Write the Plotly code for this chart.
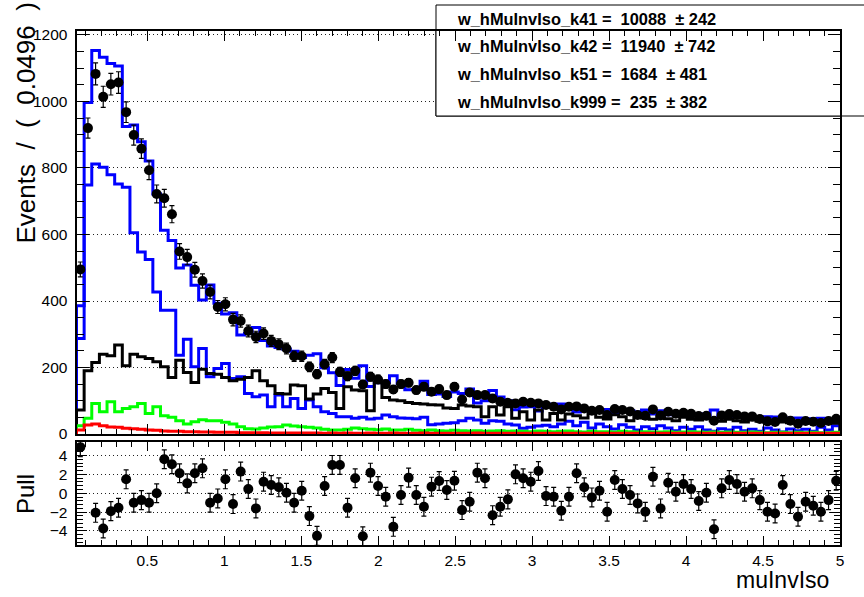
import numpy as np
import plotly.graph_objects as go

# ---- binning -------------------------------------------------------------
x_lo, x_hi, n_bins = 0.04, 5.0, 100

# ---- observed counts per bin ---------------------------------------------
data_counts = [
    495, 920, 1083, 1014, 1052, 1057, 968, 899, 858, 793,
    722, 709, 661, 549, 532, 494, 460, 427, 382, 390,
    344, 340, 310, 292, 302, 280, 270, 257, 234, 234,
    202, 180, 210, 230, 187, 174, 190, 149, 172, 164,
    150, 134, 150, 154, 132, 142, 127, 135, 117, 142,
    104, 125, 117, 117, 107, 97, 94, 92, 97, 94,
    92, 87, 82, 74, 82, 83, 77, 70, 72, 57,
    75, 72, 68, 57, 55, 74, 56, 67, 61, 64,
    61, 54, 55, 40, 56, 60, 57, 53, 53, 45,
    38, 36, 50, 40, 31, 39, 37, 33, 39, 46,
]

# ---- pull per bin (None = outside the displayed range) -------------------
pull_values = [
    4.9, None, -2.08, -3.75, -1.9, -1.54, 1.48, -1.01, -0.73, -1.01,
    0.0, 3.61, 3.08, 2.12, 1.05, 2.12, 2.65, -1.01, -0.55, 1.48,
    -1.15, 2.3, 0.45, -1.61, 1.23, 0.88, 0.63, 0.06, -1.01, 0.27,
    -2.43, -4.53, 0.77, 3.01, 3.01, -1.54, 1.59, -4.57, 2.19, 0.77,
    -0.37, -3.57, -0.19, 1.66, -0.19, -1.44, 0.7, 1.3, 0.34, 1.33,
    -1.79, -0.9, 2.19, 1.59, -2.33, -1.44, -0.65, 2.01, 1.59, 1.23,
    2.37, -0.3, -0.37, -1.86, -0.37, 2.12, 0.63, -0.44, 0.27, -1.97,
    1.41, 0.45, -0.19, -1.08, -1.97, 1.76, -1.61, 1.12, 0.16, 0.98,
    0.45, -0.83, 0.06, -3.82, 0.52, 1.41, 0.98, 0.16, 0.52, -0.73,
    -1.97, -2.15, 0.88, -1.15, -2.5, -0.9, -1.33, -1.97, -0.73, 1.33,
]

# ---- total fit model -------------------------------------------------------
total_fit = [
    386, 997, 1153, 1133, 1114, 1107, 925, 929, 879, 821,
    722, 613, 582, 499, 508, 447, 403, 448, 393, 361,
    365, 298, 302, 320, 281, 265, 260, 256, 249, 230,
    237, 241, 199, 184, 146, 194, 168, 205, 143, 154,
    155, 175, 152, 133, 134, 159, 119, 120, 113, 126,
    122, 135, 93, 100, 131, 111, 100, 73, 81, 82,
    69, 90, 85, 90, 85, 66, 72, 74, 70, 74,
    64, 68, 70, 66, 72, 60, 70, 58, 60, 57,
    58, 60, 55, 72, 52, 50, 50, 52, 49, 50,
    52, 51, 44, 48, 48, 45, 46, 47, 44, 38,
]

# ---- fit components --------------------------------------------------------
comp_k42 = [
    287, 749, 812, 802, 780, 752, 742, 605, 547, 525,
    427, 372, 372, 237, 285, 202, 257, 172, 197, 212,
    167, 172, 122, 112, 117, 82, 117, 82, 107, 77,
    102, 82, 67, 62, 52, 52, 47, 50, 45, 47,
    57, 52, 48, 47, 46, 50, 28, 30, 32, 34,
    40, 47, 42, 32, 40, 38, 30, 27, 17, 20,
    24, 26, 22, 30, 38, 25, 35, 18, 30, 22,
    15, 28, 20, 12, 22, 16, 25, 18, 10, 20,
    14, 22, 12, 8, 16, 12, 20, 10, 14, 8,
    18, 12, 6, 15, 10, 14, 8, 20, 12, 25,
]

comp_k41 = [
    72, 190, 215, 240, 235, 268, 205, 240, 232, 227,
    217, 202, 170, 222, 185, 155, 195, 182, 180, 170,
    160, 165, 170, 190, 160, 145, 122, 120, 147, 145,
    105, 120, 137, 125, 77, 142, 132, 130, 70, 155,
    110, 102, 100, 95, 92, 90, 88, 87, 78, 77,
    87, 84, 82, 52, 82, 57, 82, 47, 67, 42,
    72, 42, 62, 42, 60, 55, 48, 62, 50, 45,
    58, 52, 40, 55, 48, 44, 52, 46, 40, 50,
    44, 42, 46, 40, 38, 44, 40, 36, 42, 38,
    35, 40, 36, 34, 38, 35, 33, 36, 34, 32,
]

comp_k51 = [
    25, 47, 92, 67, 97, 67, 77, 82, 92, 62,
    82, 55, 50, 40, 30, 37, 43, 40, 40, 35,
    30, 22, 16, 15, 18, 21, 22, 27, 24, 22,
    20, 18, 14, 12, 12, 14, 18, 16, 14, 13,
    15, 12, 12, 14, 11, 10, 12, 10, 9, 11,
    10, 9, 10, 8, 9, 10, 8, 9, 8, 7,
    9, 8, 7, 8, 9, 7, 6, 8, 7, 7,
    6, 8, 7, 6, 7, 6, 6, 7, 5, 6,
    7, 6, 5, 6, 5, 6, 5, 5, 6, 5,
    4, 5, 5, 4, 5, 4, 5, 4, 4, 5,
]

comp_k999 = [
    12, 27, 30, 25, 21, 20, 17, 16, 14, 12,
    11, 9, 8, 8, 7, 7, 6, 6, 5, 5,
    5, 4, 4, 4, 4, 3, 3, 3, 3, 3,
    3, 3, 2, 3, 2, 3, 2, 2, 3, 2,
    2, 3, 2, 2, 2, 3, 2, 2, 2, 2,
    2, 2, 3, 2, 2, 2, 2, 2, 2, 2,
    2, 2, 2, 2, 2, 2, 2, 2, 2, 2,
    2, 2, 2, 2, 2, 2, 2, 2, 2, 2,
    2, 2, 2, 2, 2, 2, 2, 2, 2, 2,
    2, 2, 2, 2, 2, 2, 2, 2, 2, 2,
]

fit_yields = [
    ("w_hMuInvIso_k41", "10088", "242"),
    ("w_hMuInvIso_k42", "11940", "742"),
    ("w_hMuInvIso_k51", "1684", "481"),
    ("w_hMuInvIso_k999", "235", "382"),
]

y_ticks_main = [0, 200, 400, 600, 800, 1000, 1200]
y_ticks_pull = [-4, -2, 0, 2, 4]
x_ticks = [0.5, 1, 1.5, 2, 2.5, 3, 3.5, 4, 4.5, 5]

# ---- geometry (pixels on a 864 x 597 canvas) -------------------------------
W, H = 864, 597
PX_L, PX_R = 76.5, 840.0
MAIN_TOP, MAIN_BOT = 31.0, 434.0
PULL_TOP, PULL_BOT = 441.5, 545.0
Y_MAX = 1212.0
FONT = "Liberation Sans, Arial, Helvetica, sans-serif"


def fx(px):
    return px / W


def fy(py):
    return 1 - py / H


edges = np.linspace(x_lo, x_hi, n_bins + 1)
centers = 0.5 * (edges[:-1] + edges[1:])
data_err = np.sqrt(np.array(data_counts, dtype=float))


def step_line(values):
    xs = [edges[0]] + list(edges) + [edges[-1]]
    ys = [0] + list(values) + [values[-1], 0]
    return xs, ys


fig = go.Figure()

curves = [
    (total_fit, "#0000ff"),
    (comp_k42, "#0000ff"),
    (comp_k41, "#000000"),
    (comp_k51, "#00ff00"),
    (comp_k999, "#ff0000"),
]
for vals, col in curves:
    xs, ys = step_line(vals)
    fig.add_trace(go.Scatter(
        x=xs, y=ys, mode="lines", line=dict(color=col, width=3, shape="hv"),
        xaxis="x", yaxis="y", showlegend=False, hoverinfo="skip"))

fig.add_trace(go.Scatter(
    x=centers, y=data_counts, mode="markers",
    marker=dict(color="black", size=10),
    error_y=dict(type="data", array=data_err, color="black", thickness=1.2, width=2.5),
    xaxis="x", yaxis="y", showlegend=False))

fig.add_trace(go.Scatter(
    x=centers, y=pull_values, mode="markers",
    marker=dict(color="black", size=10),
    error_y=dict(type="constant", value=1.0, color="black", thickness=1.2, width=2.5),
    xaxis="x2", yaxis="y2", showlegend=False))

grid = dict(showgrid=True, gridcolor="#222222", gridwidth=1, griddash="1px,3px")
frame = dict(showline=True, linecolor="black", linewidth=2, mirror="ticks",
             ticks="inside", tickcolor="black", tickwidth=1, zeroline=False,
             automargin=False)
tickfont = dict(family=FONT, size=15.5, color="black")

fig.update_layout(
    width=W, height=H, autosize=False,
    margin=dict(l=0, r=0, t=0, b=0, pad=0),
    paper_bgcolor="white", plot_bgcolor="rgba(0,0,0,0)",
    xaxis=dict(domain=[fx(PX_L), fx(PX_R)], range=[x_lo, x_hi], anchor="y",
               tickvals=x_ticks, showticklabels=False, ticklen=10,
               minor=dict(dtick=0.1, tick0=0, ticklen=5, ticks="inside",
                          tickcolor="black", showgrid=False),
               showgrid=False, **frame),
    yaxis=dict(domain=[fy(MAIN_BOT), fy(MAIN_TOP)], range=[0, Y_MAX], anchor="x",
               tickvals=y_ticks_main, ticklen=12, tickfont=tickfont,
               ticklabelstandoff=4,
               minor=dict(dtick=50, tick0=0, ticklen=7, ticks="inside",
                          tickcolor="black", showgrid=False),
               **grid, **frame),
    xaxis2=dict(domain=[fx(PX_L), fx(PX_R)], range=[x_lo, x_hi], anchor="y2",
                tickvals=x_ticks, ticklen=9, tickfont=tickfont,
                minor=dict(dtick=0.1, tick0=0, ticklen=5, ticks="inside",
                           tickcolor="black", showgrid=False),
                showgrid=False, **frame),
    yaxis2=dict(domain=[fy(PULL_BOT), fy(PULL_TOP)], range=[-5.5, 5.5], anchor="x2",
                tickvals=y_ticks_pull, ticklen=10, tickfont=tickfont,
                ticklabelstandoff=4,
                minor=dict(dtick=0.4, tick0=0, ticklen=6, ticks="inside",
                           tickcolor="black", showgrid=False),
                **grid, **frame),
)

# fit-result box: outer part on the paper, inner part over the grid
px_to_x = lambda px: x_lo + (px - PX_L) / (PX_R - PX_L) * (x_hi - x_lo)
py_to_y = lambda py: (MAIN_BOT - py) / (MAIN_BOT - MAIN_TOP) * Y_MAX
BOX_L, BOX_T, BOX_B = 436.0, 5.0, 116.0
fig.add_shape(type="rect", xref="paper", yref="paper", layer="below",
              x0=fx(BOX_L), x1=1.05, y0=fy(BOX_B), y1=fy(BOX_T),
              line=dict(color="black", width=1), fillcolor="white")
fig.add_shape(type="rect", xref="x", yref="y", layer="between",
              x0=px_to_x(BOX_L), x1=x_hi + 0.2, y0=py_to_y(BOX_B), y1=Y_MAX + 50,
              line=dict(color="black", width=1), fillcolor="white")

for i, (name, val, err) in enumerate(fit_yields):
    fig.add_annotation(
        xref="paper", yref="paper", x=fx(455), y=fy(18.5 + 27.8 * i),
        xanchor="left", yanchor="middle", showarrow=False,
        text=f"<b>{name} =  {val}  \u00b1 {err}</b>",
        font=dict(family=FONT, size=16.4, color="black"))

# axis titles; the y title runs up to the top edge of the canvas
gap = " \u00a0"
y_title = gap.join(["Events", "/", "(", "0.0496", ")"])
fig.add_annotation(xref="paper", yref="paper", x=fx(25), y=fy(246),
                   xanchor="center", yanchor="bottom", textangle=-90,
                   showarrow=False, text=y_title,
                   font=dict(family=FONT, size=26, color="black"))
fig.add_annotation(xref="paper", yref="paper", x=fx(25), y=fy(494),
                   xanchor="center", yanchor="middle", textangle=-90,
                   showarrow=False, text="Pull",
                   font=dict(family=FONT, size=24, color="black"))
fig.add_annotation(xref="paper", yref="paper", x=fx(831), y=fy(580),
                   xanchor="right", yanchor="middle",
                   showarrow=False, text="muInvIso",
                   font=dict(family=FONT, size=23, color="black"))

fig.write_html("out.html")
